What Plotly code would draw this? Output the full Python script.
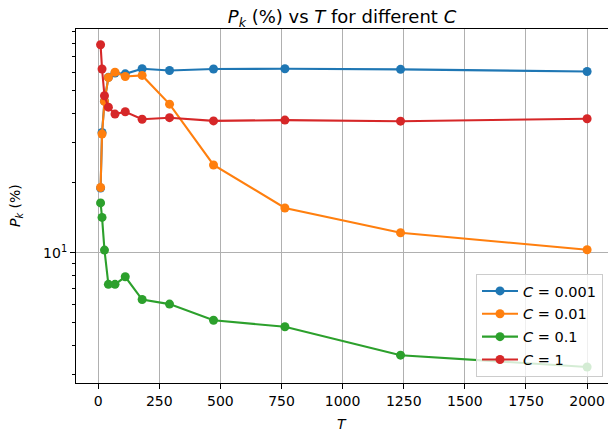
import plotly.graph_objects as go

# Data
T = [10, 16, 26, 42, 69, 111, 180, 292, 472, 764, 1237, 2000]
pk_c0001 = [19.0, 33.0, 45.0, 57.0, 59.5, 59.0, 62.1, 61.0, 61.9, 62.1, 61.7, 60.4]
pk_c001 = [19.1, 32.5, 44.9, 56.9, 60.0, 57.5, 58.1, 43.7, 23.9, 15.6, 12.2, 10.3]
pk_c01 = [16.4, 14.2, 10.27, 7.31, 7.31, 7.88, 6.29, 6.01, 5.12, 4.80, 3.62, 3.22]
pk_c1 = [78.8, 61.9, 47.5, 42.4, 39.6, 40.5, 37.6, 38.2, 37.0, 37.3, 36.9, 37.8]

series_names = ["<i>C</i> = 0.001", "<i>C</i> = 0.01", "<i>C</i> = 0.1", "<i>C</i> = 1"]
series_values = [pk_c0001, pk_c001, pk_c01, pk_c1]
colors = ["#1f77b4", "#ff7f0e", "#2ca02c", "#d62728"]

x_ticks = [0, 250, 500, 750, 1000, 1250, 1500, 1750, 2000]
y_major = [10]
y_major_text = ["10<sup>1</sup>"]
y_minor = [3, 4, 5, 6, 7, 8, 9, 20, 30, 40, 50, 60, 70, 80, 90]

FONT = "DejaVu Sans"
W, H = 608, 432
L, R, TOP, B = 76, 0, 29, 49
PW, PH = W - L - R, H - TOP - B

fig = go.Figure()
for i, (name, vals, col) in enumerate(zip(series_names, series_values, colors)):
    fig.add_trace(go.Scatter(
        x=T, y=vals, name=name, mode="lines+markers",
        legendgroup=f"g{i}",
        line=dict(color=col, width=2.1),
        marker=dict(color=col, size=9),
    ))

fig.update_layout(
    width=W, height=H,
    margin=dict(l=L, r=R, t=TOP, b=B, autoexpand=False),
    paper_bgcolor="white", plot_bgcolor="white",
    font=dict(family=FONT, size=14, color="black"),
    title=dict(
        text="<i>P</i><sub><i>k</i></sub> (%) vs <i>T</i> for different <i>C</i>",
        xref="paper", x=0.5, xanchor="center",
        yref="container", y=1 - 17 / H, yanchor="middle",
        font=dict(family=FONT, size=18, color="black"),
    ),
    showlegend=True,
    legend=dict(
        x=(603 - L) / PW, xanchor="right", y=(383 - 274) / PH, yanchor="top",
        bgcolor="rgba(255,255,255,0.8)", bordercolor="#cccccc", borderwidth=1,
        tracegroupgap=1, itemwidth=36,
        font=dict(family=FONT, size=14.5, color="black"),
    ),
    annotations=[
        dict(text="<i>T</i>", xref="paper", yref="paper",
             x=0.5, y=(383 - 424) / PH, xanchor="center", yanchor="middle",
             showarrow=False, font=dict(family=FONT, size=14, color="black")),
        dict(text="<i>P</i><sub><i>k</i></sub> (%)", xref="paper", yref="paper",
             x=(16 - L) / PW, y=0.5, xanchor="center", yanchor="middle",
             textangle=-90, showarrow=False,
             font=dict(family=FONT, size=14, color="black")),
    ],
)

fig.update_xaxes(
    range=[-90.5, 2085.5], automargin=False,
    tickvals=x_ticks, ticktext=[str(v) for v in x_ticks],
    ticks="outside", ticklen=5, tickwidth=1.1, tickcolor="black",
    showline=True, linecolor="black", linewidth=1.1, mirror=True,
    showgrid=True, gridcolor="#b0b0b0", gridwidth=1,
    zeroline=False,
)
fig.update_yaxes(
    type="log", range=[0.4389, 1.9642], automargin=False,
    tickvals=y_major, ticktext=y_major_text,
    ticks="outside", ticklen=5, tickwidth=1.1, tickcolor="black",
    minor=dict(tickvals=y_minor, ticks="outside", ticklen=3, tickwidth=0.8,
               tickcolor="black", showgrid=False),
    showline=True, linecolor="black", linewidth=1.1, mirror=False,
    showgrid=True, gridcolor="#b0b0b0", gridwidth=1,
    zeroline=False,
)

fig.write_html("out.html", config={"displayModeBar": False},
               post_script="document.body.style.margin='0px';")
